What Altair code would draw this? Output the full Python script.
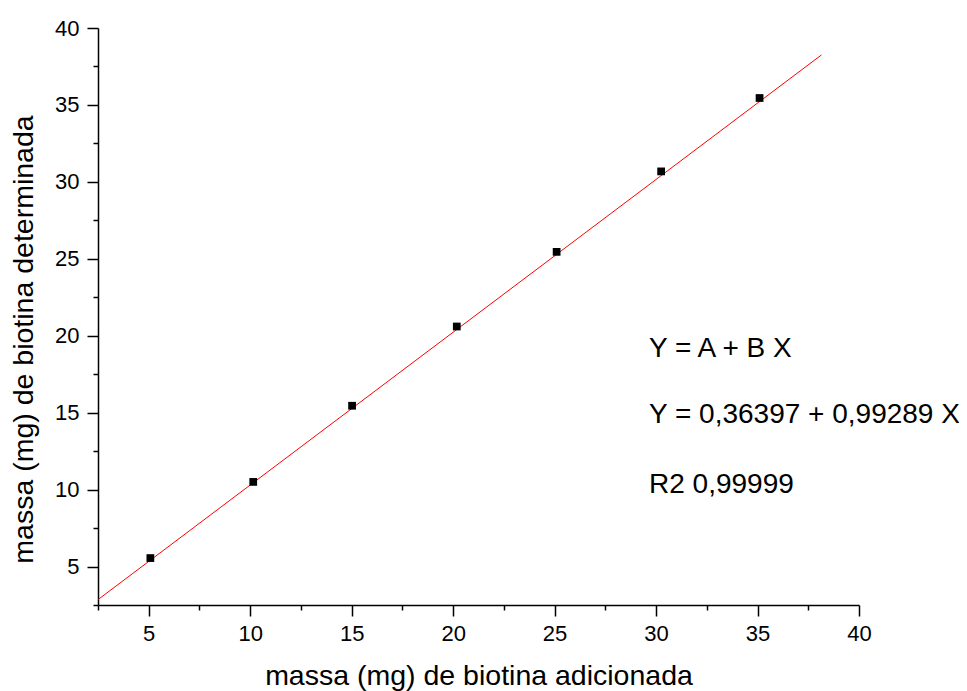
import altair as alt
import pandas as pd

# measured points
x_added = [5.08, 10.15, 15.02, 20.18, 25.1, 30.25, 35.1]
y_found = [5.55, 10.5, 15.45, 20.6, 25.45, 30.68, 35.45]

# fitted line endpoints (as drawn)
fit_x = [2.5, 38.15]
fit_y = [2.85, 38.25]

tick_values = [2.5, 5, 7.5, 10, 12.5, 15, 17.5, 20, 22.5, 25, 27.5, 30, 32.5, 35, 37.5, 40]
annotations = ["Y = A + B X", "Y = 0,36397 + 0,99289 X", "R2 0,99999"]

pts = pd.DataFrame({"x": x_added, "y": y_found})
fit = pd.DataFrame({"x": fit_x, "y": fit_y})

FONT = "Liberation Sans"

xscale = alt.Scale(domain=[2.5, 40], nice=False, zero=False)
yscale = alt.Scale(domain=[2.5, 40], nice=False, zero=False)

tick_size = {"condition": {"test": "datum.value % 5 === 0", "value": 11}, "value": 5}
label_expr = "datum.value % 5 === 0 ? datum.label : ''"

xaxis = alt.Axis(values=tick_values, labelExpr=label_expr, tickSize=tick_size,
                 grid=False, title="massa (mg) de biotina adicionada",
                 labelFont=FONT, labelFontSize=22, labelColor="black", labelPadding=7,
                 labelOverlap=False, labelFlush=False,
                 titleFont=FONT, titleFontSize=28.5, titleFontWeight="normal", titleColor="black",
                 titlePadding=17, domainColor="black", domainWidth=1.5,
                 tickColor="black", tickWidth=1.5)
yaxis = alt.Axis(values=tick_values, labelExpr=label_expr, tickSize=tick_size,
                 grid=False, title="massa (mg) de biotina determinada",
                 labelFont=FONT, labelFontSize=22, labelColor="black", labelPadding=8,
                 labelOverlap=False, labelFlush=False,
                 titleFont=FONT, titleFontSize=28.5, titleFontWeight="normal", titleColor="black",
                 titlePadding=16, titleY=311, domainColor="black", domainWidth=1.5,
                 tickColor="black", tickWidth=1.5)

line = alt.Chart(fit).mark_line(color="#ff0000", strokeWidth=1, clip=False).encode(
    x=alt.X("x:Q", scale=xscale, axis=xaxis),
    y=alt.Y("y:Q", scale=yscale, axis=yaxis),
)

points = alt.Chart(pts).mark_square(size=60, color="black", opacity=1).encode(
    x=alt.X("x:Q", scale=xscale, axis=xaxis),
    y=alt.Y("y:Q", scale=yscale, axis=yaxis),
)

text_y = [321, 387, 457]
texts = [
    alt.Chart(pd.DataFrame({"t": [a]})).mark_text(
        align="left", baseline="middle", font=FONT, fontSize=28, color="black"
    ).encode(x=alt.value(551), y=alt.value(ty), text="t:N")
    for a, ty in zip(annotations, text_y)
]

chart = alt.layer(line, points, *texts).properties(
    width=761, height=577,
    autosize=alt.AutoSizeParams(type="none"),
    padding={"left": 90, "top": 20, "right": 100, "bottom": 86},
    view=alt.ViewBackground(stroke="transparent", strokeWidth=0),
).configure_view(stroke="transparent", strokeWidth=0).configure(background="white")

chart.save("out.html", embed_options={"renderer": "svg", "actions": False})
